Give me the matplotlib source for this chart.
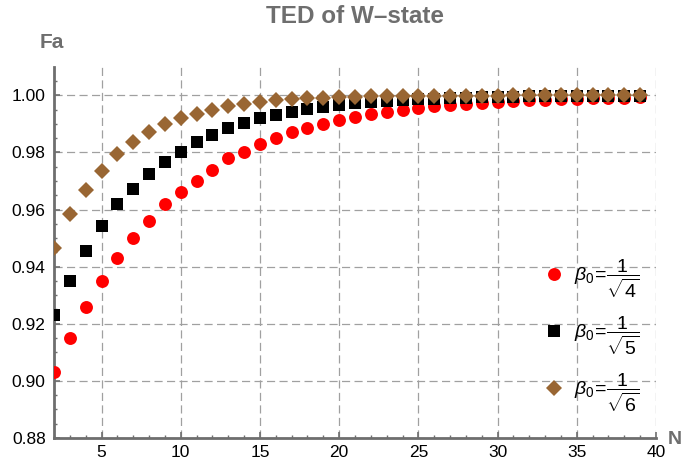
import matplotlib
matplotlib.use("Agg")
import matplotlib.pyplot as plt
import numpy as np
from matplotlib.ticker import MultipleLocator, FormatStrFormatter

plt.rcParams['font.family'] = ['Liberation Sans', 'DejaVu Sans']
plt.rcParams['mathtext.fontset'] = 'custom'
plt.rcParams['mathtext.rm'] = 'Liberation Sans'
plt.rcParams['mathtext.it'] = 'Liberation Sans:italic'
plt.rcParams['mathtext.bf'] = 'Liberation Sans:bold'

# data
n_values = list(range(2, 40))
fa_beta4 = [0.903, 0.915, 0.926, 0.935, 0.943, 0.950, 0.956, 0.962, 0.966, 0.970,
            0.974, 0.978, 0.980, 0.983, 0.985, 0.987, 0.9885, 0.990, 0.9912, 0.9923,
            0.9933, 0.9941, 0.9949, 0.9955, 0.9961, 0.9966, 0.9970, 0.9974, 0.9977, 0.9980,
            0.9982, 0.9985, 0.9987, 0.9988, 0.9990, 0.9991, 0.9992, 0.9993]
fa_beta5 = [0.923, 0.935, 0.9456, 0.9544, 0.9618, 0.9672, 0.9725, 0.9766, 0.9803, 0.9835,
            0.9862, 0.9885, 0.9903, 0.9919, 0.9931, 0.9942, 0.9951, 0.9960, 0.9966, 0.9972,
            0.9976, 0.9980, 0.9983, 0.9986, 0.9988, 0.9990, 0.9992, 0.9993, 0.9994, 0.9995,
            0.9996, 0.9997, 0.9997, 0.9998, 0.9998, 0.9998, 0.9999, 0.9999]
fa_beta6 = [0.9466, 0.9583, 0.9668, 0.9736, 0.9795, 0.9836, 0.9871, 0.9900, 0.9919, 0.9936,
            0.9948, 0.9962, 0.9971, 0.9977, 0.9982, 0.9986, 0.9990, 0.9992, 0.9994, 0.9995,
            0.9996, 0.9997, 0.9998, 0.9998, 0.9999, 0.9999, 0.9999, 0.9999, 0.9999, 1.0,
            1.0, 1.0, 1.0, 1.0, 1.0, 1.0, 1.0, 1.0]
labels = [r'$\beta_0\!=\!\dfrac{1}{\sqrt{4}}$',
          r'$\beta_0\!=\!\dfrac{1}{\sqrt{5}}$',
          r'$\beta_0\!=\!\dfrac{1}{\sqrt{6}}$']

gray = '#6e6e6e'
brown = '#996633'

fig = plt.figure(figsize=(6.83, 4.69), dpi=100)
ax = fig.add_axes([54/683, 31/469, 602/683, 371/469])

h1, = ax.plot(n_values, fa_beta4, 'o', color='red', ms=9.3, mew=0, zorder=3)
h2, = ax.plot(n_values, fa_beta5, 's', color='black', ms=9, mew=0, zorder=4)
h3, = ax.plot(n_values, fa_beta6, 'D', color=brown, ms=8.2, mew=0, zorder=5)

ax.set_xlim(2, 40)
ax.set_ylim(0.88, 1.0099)
ax.xaxis.set_major_locator(MultipleLocator(5))
ax.xaxis.set_minor_locator(MultipleLocator(1))
ax.yaxis.set_major_locator(MultipleLocator(0.02))
ax.yaxis.set_minor_locator(MultipleLocator(0.005))
ax.yaxis.set_major_formatter(FormatStrFormatter('%.2f'))

for side in ['top', 'right']:
    ax.spines[side].set_visible(False)
for side in ['left', 'bottom']:
    ax.spines[side].set_color(gray)
    ax.spines[side].set_linewidth(2.0)

ax.tick_params(which='major', direction='in', length=4, width=1.2, color=gray,
               labelsize=12.5, pad=6)
ax.tick_params(which='minor', direction='in', length=2.5, width=1.0, color=gray)
ax.tick_params(axis='x', which='major', pad=5)

ax.grid(True, which='major', color='#a0a0a0', linewidth=0.9, linestyle=(0, (6.5, 3.5)))
ax.set_axisbelow(True)

ax.set_title('TED of W\u2013state', fontsize=17.5, fontweight='bold', color=gray,
             y=1.095)
ax.set_ylabel('Fa', fontsize=15, fontweight='bold', color=gray, rotation=0,
              ha='center', va='center')
ax.yaxis.set_label_coords(-0.003, 1.065)
ax.set_xlabel('N', fontsize=14, fontweight='bold', color=gray, ha='left', va='center')
ax.xaxis.set_label_coords(1.02, -0.005)

ax.legend([h1, h2, h3], labels, loc='center left', bbox_to_anchor=(0.795, 0.275),
          frameon=False, fontsize=14, handletextpad=0.45, labelspacing=0.75,
          handlelength=1.2, markerscale=1.0, borderpad=0)

fig.savefig('out.png', dpi=100)
